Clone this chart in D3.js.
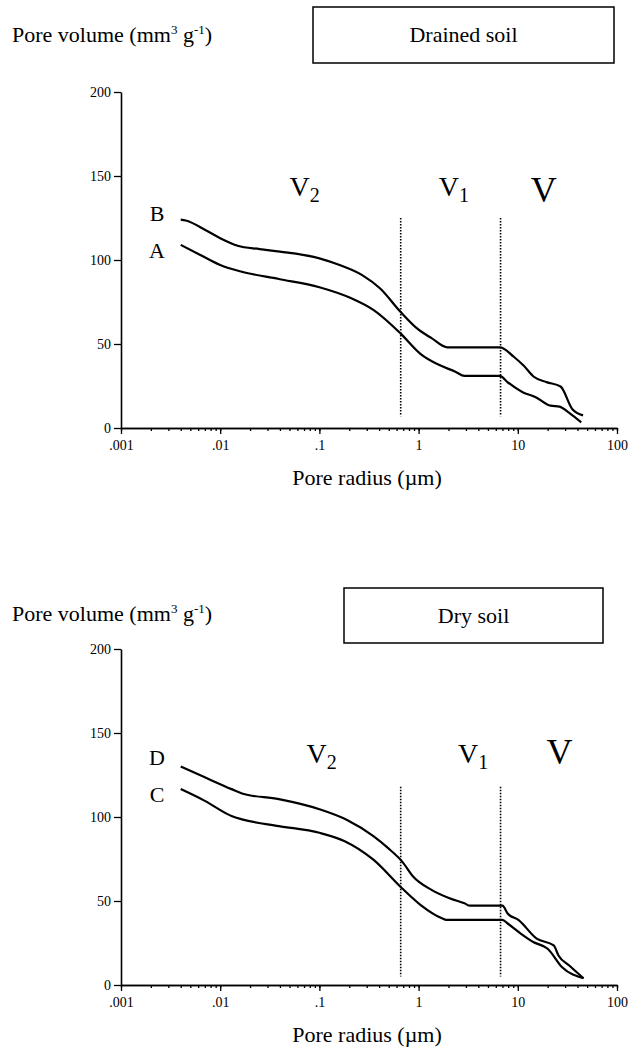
<!DOCTYPE html>
<html><head><meta charset="utf-8">
<script src="https://cdn.jsdelivr.net/npm/d3@7"></script>
<style>
body{margin:0;background:#fff}
text{font-family:"Liberation Serif","Times New Roman",serif;fill:#000}
</style>
</head><body>
<svg id="c" width="629" height="1058"></svg>
<script>
// ---- data ----
const radiusA = [0.004,0.0063,0.01,0.0165,0.039,0.1,0.21,0.35,0.66,1.05,1.6,2.35,2.9,6.6,7.8,11.2,15,21.4,26.3,33,43.6];
const volumeA = [109,103,97,93,88.7,83.8,77.2,70.3,56.2,44,37.6,33.5,31,31,27.5,21.3,18.5,13.3,12.7,9,3.3];
const radiusB = [0.004,0.0045,0.007,0.01,0.015,0.025,0.04,0.1,0.16,0.27,0.41,0.66,1.0,1.35,1.95,6.6,9.1,11.5,14.5,19.5,27,35.5,45.5];
const volumeB = [124,123.5,118,113,108.5,106.5,105,101,97,91,83,69,58.5,53.5,48,48,42.4,37,30.5,27.3,24.7,11.2,7.5];
const radiusC = [0.004,0.007,0.013,0.0166,0.039,0.1,0.18,0.35,0.68,1.05,1.74,1.9,7.0,7.9,10.7,14.3,20,28,46];
const volumeC = [116.6,109.6,100.6,98.6,94.6,90.6,85.6,74.6,57.6,47.6,39.6,38.8,38.8,36.6,30.6,25.6,21.6,10.6,4];
const radiusD = [0.004,0.007,0.013,0.0166,0.039,0.1,0.19,0.35,0.49,0.68,0.88,1.35,2.05,2.9,3.3,7.0,7.9,10.2,15.5,23,25.7,33,46];
const volumeD = [130,123.6,116.6,114,110.6,104.6,98.2,88.6,81.6,73.6,64.6,56.6,51.6,48.6,47.2,47.2,42.6,38.6,27.6,23.6,17.6,11.6,4];

const yTicks = [0, 50, 100, 150, 200];
const xMajor = [0.001, 0.01, 0.1, 1, 10, 100];
const xTickLabels = [".001", ".01", ".1", "1", "10", "100"];
const boundaries = [0.66, 6.7];
const titles = ["Drained soil", "Dry soil"];
const yTitle = "Pore volume (mm";
const xTitle = "Pore radius (\u00b5m)";

const svg = d3.select("#c");
svg.append("rect").attr("width",629).attr("height",1058).attr("fill","#fff");

function panel(o) {
  const g = svg.append("g");
  const x = d3.scaleLog().domain([0.001, 100]).range([121, 617]);
  const y = d3.scaleLinear().domain([0, 200]).range([o.y0, o.y0 - 336]);

  const t = g.append("text").attr("x", 12).attr("y", o.titleY).attr("font-size", 22);
  t.append("tspan").text(yTitle);
  t.append("tspan").attr("font-size", 13).attr("dy", -8).text("3");
  t.append("tspan").attr("font-size", 22).attr("dy", 8).text(" g");
  t.append("tspan").attr("font-size", 13).attr("dy", -8).text("-1");
  t.append("tspan").attr("font-size", 22).attr("dy", 8).text(")");

  g.append("rect").attr("x", o.box[0]).attr("y", o.box[1]).attr("width", o.box[2]).attr("height", o.box[3])
    .attr("fill", "none").attr("stroke", "#000").attr("stroke-width", 1.5);
  g.append("text").attr("x", o.box[0] + o.box[2]/2).attr("y", o.box[1] + o.box[3]/2 + 7)
    .attr("text-anchor", "middle").attr("font-size", 22).text(o.title);

  const ya = g.append("g").attr("transform", "translate(121,0)")
    .call(d3.axisLeft(y).tickValues(yTicks).tickSize(7).tickSizeOuter(0).tickPadding(3));
  ya.selectAll("text").attr("font-size", 14).attr("font-family", "Liberation Serif");
  const xa = g.append("g").attr("transform", `translate(0,${o.y0})`)
    .call(d3.axisBottom(x).tickValues(xMajor).tickFormat((d,i) => xTickLabels[i]).tickSize(6).tickSizeOuter(0).tickPadding(6));
  xa.selectAll("text").attr("font-size", 14).attr("font-family", "Liberation Serif");
  g.append("g").attr("transform", `translate(0,${o.y0})`)
    .call(d3.axisBottom(x).tickValues(x.ticks()).tickFormat("").tickSize(3).tickSizeOuter(0));
  g.selectAll(".domain").attr("stroke-width", 1.6);
  g.selectAll(".tick line").attr("stroke-width", 1.3);

  g.append("text").attr("x", 367).attr("y", o.y0 + 57).attr("text-anchor", "middle")
    .attr("font-size", 22).text(xTitle);

  boundaries.forEach(b => {
    g.append("line").attr("x1", x(b)).attr("x2", x(b)).attr("y1", y(o.vTop)).attr("y2", y(o.vBot))
      .attr("stroke", "#000").attr("stroke-width", 1.6).attr("stroke-dasharray", "1.6,1.4");
  });

  const line = d3.line().x(d => x(d[0])).y(d => y(d[1])).curve(d3.curveMonotoneX);
  o.series.forEach(s => {
    g.append("path").datum(d3.zip(s.r, s.v)).attr("d", line)
      .attr("fill", "none").attr("stroke", "#000").attr("stroke-width", 2.2).attr("stroke-linejoin", "round");
    g.append("text").attr("x", 157).attr("y", y(s.labelV)).attr("dy", "0.35em")
      .attr("text-anchor", "middle").attr("font-size", 22).text(s.name);
  });

  o.regions.forEach(r => {
    const tt = g.append("text").attr("x", x(r.r)).attr("y", y(r.v)).attr("font-size", r.size).attr("text-anchor", "start");
    tt.append("tspan").text("V");
    if (r.sub) tt.append("tspan").attr("font-size", 20).attr("dy", 6).text(r.sub);
  });
}

panel({
  y0: 428, titleY: 42, box: [313, 7, 301, 56], title: titles[0], vTop: 125, vBot: 7,
  series: [
    {name: "B", r: radiusB, v: volumeB, labelV: 128},
    {name: "A", r: radiusA, v: volumeA, labelV: 106}
  ],
  regions: [
    {r: 0.05, v: 138, sub: "2", size: 28},
    {r: 1.6, v: 138, sub: "1", size: 28},
    {r: 13.5, v: 134.5, sub: "", size: 36}
  ]
});

panel({
  y0: 985, titleY: 621, box: [344, 588, 259, 55], title: titles[1], vTop: 118, vBot: 5,
  series: [
    {name: "D", r: radiusD, v: volumeD, labelV: 135.3},
    {name: "C", r: radiusC, v: volumeC, labelV: 113.8}
  ],
  regions: [
    {r: 0.074, v: 132, sub: "2", size: 28},
    {r: 2.5, v: 132, sub: "1", size: 28},
    {r: 19.5, v: 131.7, sub: "", size: 36}
  ]
});
</script>
</body></html>
